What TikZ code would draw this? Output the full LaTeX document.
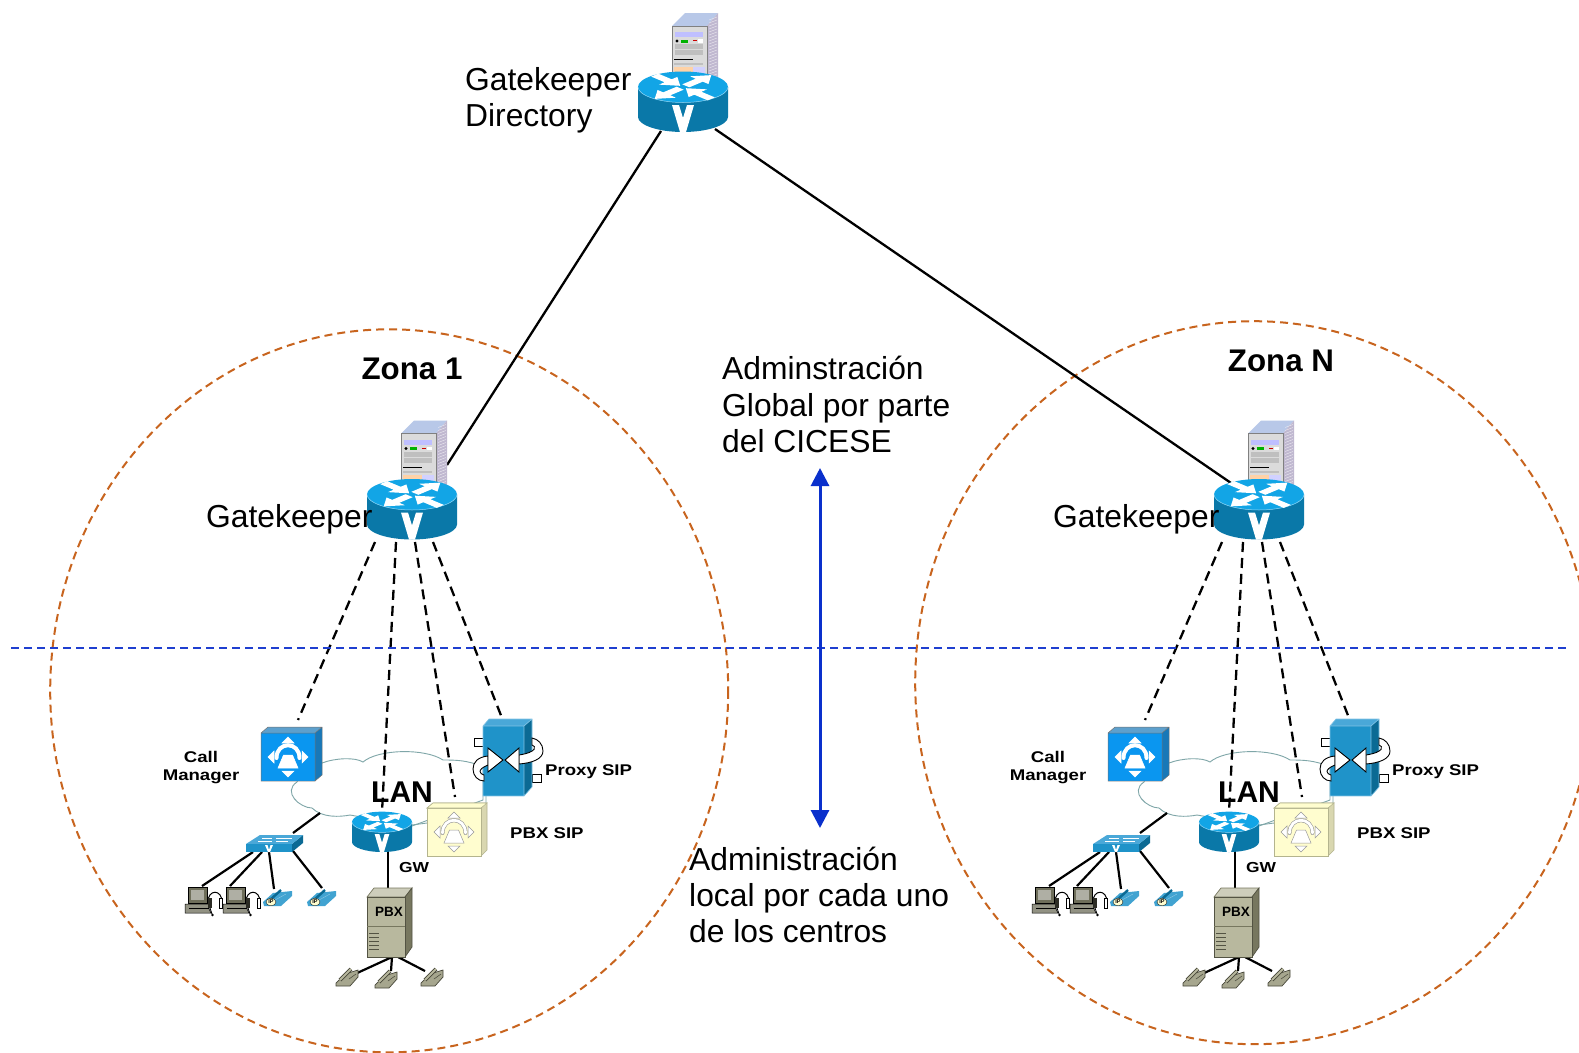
\documentclass[tikz,border=0pt]{standalone}
\usepackage{fontspec}
\setmainfont{Liberation Sans}
\newfontfamily\lblfont[FakeStretch=1.2]{Liberation Sans}
\usetikzlibrary{arrows.meta}
\definecolor{routertop}{HTML}{12A5E6}
\definecolor{routerside}{HTML}{0A78A8}
\definecolor{zoneorange}{HTML}{C8641E}
\definecolor{lineblue}{HTML}{1F3FD0}
\definecolor{arrowblue}{HTML}{0A30CC}
\definecolor{cloudline}{HTML}{7FA6A8}
\definecolor{boxblue}{HTML}{1F93C9}
\definecolor{boxside}{HTML}{0B6A94}
\definecolor{boxtop}{HTML}{4AA8D8}
\definecolor{cmblue}{HTML}{0A96F0}
\definecolor{cmside}{HTML}{1878B8}
\definecolor{cream}{HTML}{FFFDCF}
\definecolor{creamline}{HTML}{B4B48E}
\definecolor{pbxbody}{HTML}{B8B89E}
\definecolor{pbxdark}{HTML}{77775F}
\definecolor{pcolive}{HTML}{6E6E5A}
\definecolor{srvtop}{HTML}{B8C8E8}
\definecolor{srvside}{HTML}{C0B8D0}
\newcommand{\fsz}[2]{\fontsize{#1}{#2}\selectfont}
\tikzset{
  every node/.style={inner sep=0pt},
  maintext/.style={align=left,anchor=west,font=\fsz{31.8}{36.3}},
  zonetitle/.style={font=\fsz{31.3}{36}\bfseries},
  smalllabel/.style={align=center,font=\lblfont\fsz{15.5}{18}\bfseries},
  lantext/.style={font=\fsz{30}{32}\bfseries},
  dashlink/.style={dash pattern=on 10pt off 6pt,line width=2.3pt,black},
  solidlink/.style={line width=2.3pt,black},
  thicklink/.style={line width=2.2pt,black},
  zonering/.style={dash pattern=on 8pt off 5pt,line width=2pt,zoneorange},
  pics/router/.style={code={
    \fill[routerside] (-45,0) -- (-45,30) .. controls (-45,38) and (-25,45) .. (0,45) .. controls (25,45) and (45,38) .. (45,30) -- (45,0) -- cycle;
    \fill[routertop] (0,0) ellipse [x radius=45,y radius=15.5];
    \draw[white!55!routertop,line width=.5pt] (-45,0) .. controls (-45,8) and (-25,15.5) .. (0,15.5) .. controls (25,15.5) and (45,8) .. (45,0);
    \begin{scope}[yscale=.42]
      \foreach \a in {45,225}{\fill[white,rotate=\a] (4,-5) -- (23,-5) -- (23,-13) -- (40,0) -- (23,13) -- (23,5) -- (4,5) -- cycle;}
      \foreach \a in {135,-45}{\fill[white,rotate=\a] (40,-5) -- (21,-5) -- (21,-13) -- (4,0) -- (21,13) -- (21,5) -- (40,5) -- cycle;}
    \end{scope}
    \fill[white] (-11,18) -- (-4,18) -- (0,31) -- (4,18) -- (11,18) -- (3,45) -- (-3,45) -- cycle;
  }},
  pics/server/.style={code={
    \fill[srvtop] (-11,-61) -- (2,-74) -- (35,-74) -- (24,-61) -- cycle;
    \fill[srvside] (24,-61) -- (35,-74) -- (35,-5) -- (24,-5) -- cycle;
    \foreach \k in {-70,-67,...,-10}{\draw[white!70!srvside,line width=.4pt] (26,\k+3) -- (34,\k);}
    \fill[black!14] (-11,-61) rectangle (24,0);
    \draw[black!50,line width=.7pt] (-11,0) -- (-11,-61) -- (24,-61) -- (24,0);
    \fill[blue!25!white] (-8,-55) rectangle (20,-49.6);
    \fill[black] (-6,-46) circle (1.6);
    \fill[green!70!black] (-2,-47.5) rectangle (5,-44.5);
    \fill[red!80!black] (10,-46.7) rectangle (14,-46);
    \fill[white] (15,-48) rectangle (20,-44.5);
    \fill[black!25] (-8,-43) rectangle (20,-38);
    \fill[black!25] (-8,-37) rectangle (20,-32);
    \fill[black] (-9,-28) rectangle (10,-27);
    \fill[black!25] (-9,-24) rectangle (20,-22);
    \fill[orange!35!white] (-9,-20) rectangle (10,-10);
    \fill[blue!18!white] (10,-20) rectangle (22,-10);
  }},
  pics/phoneicon/.style 2 args={code={
    \foreach \r in {0,90,180,270}{\filldraw[fill=#1,draw=#2,line width=.5pt,rotate=\r] (-6,14) -- (6,14) -- (0,20) -- cycle;}
    \draw[#2,line width=4pt,line cap=round] (-11.5,1) .. controls (-11.5,-16) and (11.5,-16) .. (11.5,1);
    \draw[#1,line width=2.8pt,line cap=round] (-11.5,1) .. controls (-11.5,-16) and (11.5,-16) .. (11.5,1);
    \filldraw[fill=#1,draw=#2,line width=.5pt] (-4.5,-2) -- (4.5,-2) -- (10,11) -- (-10,11) -- cycle;
  }},
  pics/pcset/.style={code={
    \fill[pcolive,draw=black,line width=.6pt] (-9,-13) rectangle (10,3);
    \fill[pcolive!55!white] (-6,-10) rectangle (7,0);
    \fill[pcolive!75!white,draw=black,line width=.5pt] (-12,4) -- (12,4) -- (12,9) -- (14,13) -- (-12,13) -- cycle;
    \draw[black,line width=.5pt] (-8,8) -- (12,8);
    \draw[black,line width=1pt] (11,2) .. controls (11,-11) and (25,-11) .. (25,2);
    \fill[pcolive!40!black] (11,-2) rectangle (15,8);
    \filldraw[fill=white,draw=black,line width=.4pt] (22,-2) rectangle (25,8);
    \draw[black,line width=.8pt] (13,8) -- (15,14);
    \fill[black] (15.5,15) circle (1.4);
  }},
  pics/ipphone/.style={code={
    \fill[boxblue!85!white] (-14,5) -- (-4,-4) -- (15,-6) -- (15,-1) -- (4,9) -- (-13,9) -- cycle;
    \draw[boxside,line width=2.4pt] (-7,3) -- (4,-7);
    \draw[white!50!boxblue,line width=.4pt] (-2,3) -- (9,-3);
    \filldraw[fill=cream,draw=black,line width=.3pt] (-6,5) ellipse [x radius=5,y radius=3.8];
    \node[font=\fsz{5.5}{6}\bfseries] at (-6,5) {IP};
  }},
  pics/deskphone/.style={code={
    \filldraw[fill=pbxbody!90!black,draw=pbxdark!60!black,line width=.7pt] (-11,6) -- (-2,-3) -- (11,-7) -- (11,0) -- (3,9) -- (-11,9) -- cycle;
    \draw[pbxdark!60!black,line width=3.8pt] (-7,3) -- (4,-8);
    \draw[pbxbody,line width=2pt] (-7,3) -- (4,-8);
    \draw[pbxdark!60!black,line width=.5pt] (2,2) -- (9,-3);
  }},
}
\newcommand{\zonecontent}[5]{%
  % #1 title, #2 title x, #3 title y, #4 ring x, #5 ring y
  \draw[zonering] (#4,#5) ellipse [x radius=339,y radius=361.5];
  \node[zonetitle] (title) at (#2,#3) {#1};
  % device ports
  \coordinate (gk-a) at (375,542);  \coordinate (cm-p) at (298,720);
  \coordinate (gk-b) at (396,542);  \coordinate (gw-p) at (382,812);
  \coordinate (gk-c) at (415,542);  \coordinate (pbs-p) at (455,797);
  \coordinate (gk-d) at (433,542);  \coordinate (prx-p) at (502,718);
  \coordinate (sw-up) at (293,833); \coordinate (lan-sw) at (320,813);
  \coordinate (sw-a) at (253,852);  \coordinate (pc1-p) at (202,886);
  \coordinate (sw-b) at (262,852);  \coordinate (pc2-p) at (230,886);
  \coordinate (sw-c) at (269,852);  \coordinate (ip1-p) at (274,889);
  \coordinate (sw-d) at (293,851);  \coordinate (ip2-p) at (322,888);
  \coordinate (gw-d) at (388,850);  \coordinate (pbx-u) at (388,890);
  \coordinate (pbx-a) at (392,957); \coordinate (ph1-p) at (355,974);
  \coordinate (pbx-b) at (392,957); \coordinate (ph2-p) at (391,971);
  \coordinate (pbx-c) at (398,957); \coordinate (ph3-p) at (425,971);
  \coordinate (gw-e) at (412,825);  \coordinate (pbs-w) at (427,823);
  \coordinate (prx-s) at (486,796); \coordinate (pbs-n) at (486,804);
  % LAN cloud
  \filldraw[fill=white,draw=cloudline,line width=.9pt] (322,763) .. controls (335,758) and (355,757) .. (363,762) .. controls (378,749) and (425,748) .. (443,760) .. controls (455,760) and (468,760) .. (483,767) -- (483,800) -- (412,826) -- (350,815) .. controls (340,817) and (322,818) .. (312,808) .. controls (300,808) and (282,792) .. (297,782) .. controls (300,772) and (312,768) .. (322,763) -- cycle;
  \draw[cloudline,line width=.9pt] (gw-e) -- (pbs-w) (prx-s) -- (pbs-n);
  % connectors
  \draw[dashlink] (gk-a) -- (cm-p);
  \draw[thicklink] (sw-up) -- (lan-sw);
  \draw[thicklink] (sw-a) -- (pc1-p);
  \draw[thicklink] (sw-b) -- (pc2-p);
  \draw[thicklink] (sw-c) -- (ip1-p);
  \draw[thicklink] (sw-d) -- (ip2-p);
  \draw[thicklink] (gw-d) -- (pbx-u);
  \draw[thicklink] (pbx-a) -- (ph1-p);
  \draw[thicklink] (pbx-b) -- (ph2-p);
  \draw[thicklink] (pbx-c) -- (ph3-p);
  % Call Manager
  \fill[cmside] (315,733) -- (322,727) -- (322,775) -- (315,781) -- cycle;
  \fill[cmside!70!white] (261,733) -- (268,727) -- (322,727) -- (315,733) -- cycle;
  \fill[cmblue] (261,733) rectangle (315,781);
  \draw[black!55,line width=.5pt] (261,733) rectangle (315,781) (261,733) -- (268,727) -- (322,727) -- (322,775) -- (315,781) (315,733) -- (322,727);
  \pic at (288,757) {phoneicon={white}{white}};
  \node[smalllabel] (cm-l) at (201,768) {Call\\Manager};
  % switch
  \fill[boxside] (292,844) -- (303,835) -- (303,843) -- (292,852) -- cycle;
  \fill[boxtop] (246,844) -- (260,835) -- (303,835) -- (292,844) -- cycle;
  \fill[boxblue] (246,844) rectangle (292,852);
  \draw[white,line width=.9pt] (258,841) -- (272,841) (276,838) -- (292,838) (262,838) -- (272,838) (276,841) -- (288,841);
  \fill[white] (265,845) -- (267.5,845) -- (269,850) -- (270.5,845) -- (273,845) -- (270,852) -- (268,852) -- cycle;
  % PCs and IP phones
  \pic at (197,900) {pcset};
  \pic at (235,900) {pcset};
  \pic at (277,897) {ipphone};
  \pic at (321,897) {ipphone};
  % PBX
  \fill[pbxbody!70!white,draw=pbxdark,line width=.7pt] (367,897) -- (374,888) -- (412,888) -- (405,897) -- cycle;
  \fill[pbxdark,draw=pbxdark!70!black,line width=.7pt] (405,897) -- (412,888) -- (412,947) -- (405,957) -- cycle;
  \filldraw[fill=pbxbody,draw=pbxdark!70!black,line width=.7pt] (367,897) rectangle (405,957);
  \draw[pbxdark,line width=.8pt] (367,926) -- (405,926);
  \foreach \v in {933,937,...,949}{\draw[pbxdark!70!black,line width=.6pt] (369,\v) -- (379,\v);}
  \node[font=\fsz{13.5}{15}\bfseries] (pbx-l) at (389,912) {PBX};
  \pic at (347,977) {deskphone};
  \pic at (386,979) {deskphone};
  \pic at (432,977) {deskphone};
  % GW router
  \pic[scale=2/3] at (382,822) {router};
  \node[lantext] (lan) at (402,792) {LAN};
  \node[font=\lblfont\fsz{14.5}{16}\bfseries] (gw-l) at (414,867) {GW};
  % PBX SIP
  \filldraw[fill=cream!85!black,draw=creamline,line width=.6pt] (427,808) -- (433,803) -- (487,803) -- (487,850) -- (481,856) -- (481,808) -- cycle;
  \filldraw[fill=cream,draw=creamline,line width=.6pt] (427,808) rectangle (481,856);
  \filldraw[fill=cream,draw=creamline,line width=.6pt] (427,808) -- (433,803) -- (487,803) -- (481,808) -- cycle;
  \pic at (454,832) {phoneicon={white}{black!40}};
  \node[font=\lblfont\fsz{15.5}{18}\bfseries,anchor=west] (pbs-l) at (510,833) {PBX SIP};
  % dashed links above the cloud text
  \draw[dashlink] (gk-b) -- (gw-p);
  \draw[dashlink] (gk-c) -- (pbs-p);
  \draw[dashlink] (gk-d) -- (prx-p);
  % Proxy SIP
  \filldraw[fill=white,draw=black,line width=.7pt] (474,738) rectangle (483,746);
  \filldraw[fill=white,draw=black,line width=.7pt] (532,774) rectangle (541,782);
  \fill[boxside] (524,726) -- (532,719) -- (532,787) -- (524,796) -- cycle;
  \fill[boxtop] (483,726) -- (489,719) -- (532,719) -- (524,726) -- cycle;
  \fill[boxblue] (483,726) rectangle (524,796);
  \draw[boxtop!70!white,line width=.6pt] (483,796) -- (483,726) -- (489,719) -- (532,719) -- (532,787) -- (524,796) -- cycle (483,726) -- (524,726) -- (532,719) (524,726) -- (524,796);
  \filldraw[fill=white,draw=black,line width=.9pt] (488,756) .. controls (478,757) and (473,762) .. (473,769) .. controls (473,776) and (478,781) .. (484,781) -- (484,775) .. controls (480,774) and (476,770) .. (488,765) -- cycle;
  \filldraw[fill=white,draw=black,line width=.9pt] (519,764) .. controls (532,763) and (543,759) .. (543,751) .. controls (543,744) and (538,739) .. (532,738) -- (532,745) .. controls (536,746) and (538,752) .. (519,755) -- cycle;
  \filldraw[fill=white,draw=black,line width=.9pt] (488,748) -- (503,760) -- (488,772) -- cycle;
  \filldraw[fill=white,draw=black,line width=.9pt] (519,748) -- (505,760) -- (519,772) -- cycle;
  \node[font=\lblfont\fsz{15.5}{18}\bfseries,anchor=west] (prx-l) at (545,772) {Proxy SIP};
}
\newcommand{\gatekeeper}{%
  \pic at (412,494.5) {server};
  \pic at (412,494.5) {router};
  \node[maintext] (gk-l) at (206,519.6) {Gatekeeper};
}
\begin{document}
\begin{tikzpicture}[x=1pt,y=-1pt]
  \useasboundingbox (0,0) rectangle (1579,1052);
  \fill[white] (0,0) rectangle (1579,1052);
  % coordinates of the top-level links
  \coordinate (dir-a) at (661,131);
  \coordinate (dir-b) at (715,129);
  \coordinate (z1-gk) at (447,465);
  \coordinate (zn-gk) at (1231,483);
  \coordinate (bl-w) at (11,647.5);
  \coordinate (bl-e) at (1568,647.5);
  \coordinate (ar-n) at (820,468);
  \coordinate (ar-s) at (820,828);
  \begin{scope}[name prefix=one-]
    \zonecontent{Zona 1}{412}{369}{389.2}{690.8}
  \end{scope}
  \begin{scope}[shift={(847,0)},name prefix=enn-]
    \zonecontent{Zona N}{434}{360.5}{407.2}{682.7}
  \end{scope}
  \draw[lineblue,dash pattern=on 8pt off 5pt,line width=2pt] (bl-w) -- (bl-e);
  \draw[solidlink] (dir-a) -- (z1-gk);
  \draw[solidlink] (dir-b) -- (zn-gk);
  \begin{scope}[name prefix=one-]
    \gatekeeper
  \end{scope}
  \begin{scope}[shift={(847,0)},name prefix=enn-]
    \gatekeeper
  \end{scope}
  \draw[arrowblue,line width=3pt,{Triangle[width=18pt,length=18pt]}-{Triangle[width=18pt,length=18pt]}] (ar-n) -- (ar-s);
  % Directory
  \pic at (683,87) {server};
  \pic at (683,87) {router};
  \node[maintext] (dir-l) at (465,100.5) {Gatekeeper\\Directory};
  \node[maintext] (glob) at (722,404.5) {Adminstración\\Global por parte\\del CICESE};
  \node[maintext] (loc) at (689,895) {Administración\\local por cada uno\\de los centros};
\end{tikzpicture}
\end{document}
